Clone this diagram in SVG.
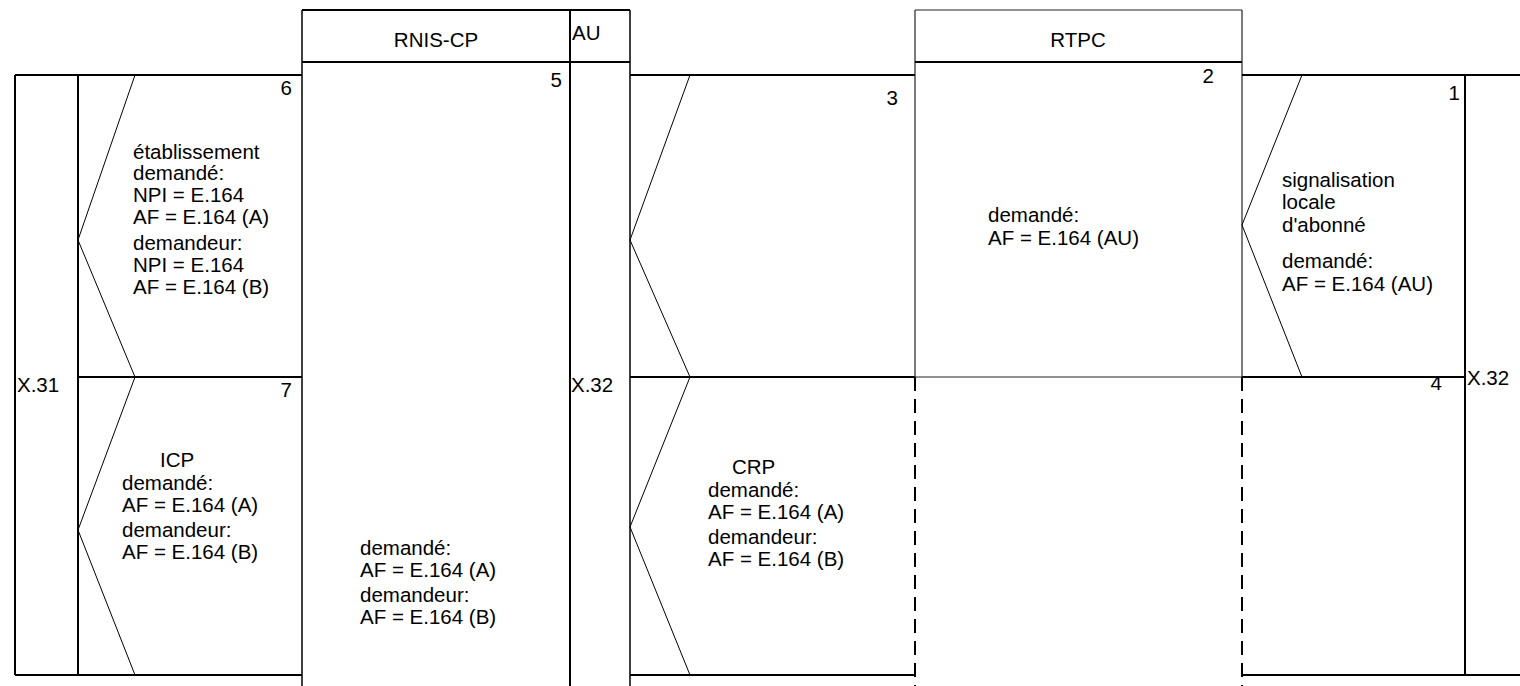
<svg xmlns="http://www.w3.org/2000/svg" width="1520" height="686" viewBox="0 0 1520 686">
<style>
text{font-family:"Liberation Sans",Arial,sans-serif;font-size:20.5px;fill:#000}
.n{text-anchor:end}
.c{text-anchor:middle}
.k{stroke:#000;stroke-width:2;fill:none}
.m{stroke:#000;stroke-width:1.5;fill:none}
.t{stroke:#000;stroke-width:1;fill:none}
.g{stroke:#222;stroke-width:1.2;fill:none}
.d{stroke:#000;stroke-width:2;fill:none;stroke-dasharray:14 8}
</style>
<rect width="1520" height="686" fill="#fff"/>
<g id="connectors">
<line class="k" x1="15" y1="75" x2="302" y2="75"/>
<line class="k" x1="15" y1="75" x2="15" y2="675"/>
<line class="k" x1="78" y1="75" x2="78" y2="675"/>
<line class="k" x1="78" y1="377" x2="302" y2="377"/>
<line class="k" x1="15" y1="675" x2="302" y2="675"/>
<polyline class="t" points="135,75 78,240 135,377"/>
<polyline class="t" points="135,377 78,530 135,675"/>
<line class="k" x1="302" y1="10" x2="630" y2="10"/>
<line class="k" x1="302" y1="62" x2="630" y2="62"/>
<line class="m" x1="302" y1="10" x2="302" y2="686"/>
<line class="k" x1="570" y1="10" x2="570" y2="686"/>
<line class="m" x1="630" y1="10" x2="630" y2="686"/>
<line class="k" x1="630" y1="75" x2="915" y2="75"/>
<line class="k" x1="630" y1="377" x2="915" y2="377"/>
<line class="k" x1="630" y1="675" x2="915" y2="675"/>
<polyline class="t" points="690,75 630,240 690,377"/>
<polyline class="t" points="690,377 630,527 690,675"/>
<line class="g" x1="915" y1="10" x2="1242" y2="10"/>
<line class="k" x1="915" y1="62" x2="1242" y2="62"/>
<line class="g" x1="915" y1="10" x2="915" y2="377"/>
<line class="g" x1="1242" y1="10" x2="1242" y2="377"/>
<line class="g" x1="915" y1="377" x2="1242" y2="377"/>
<line class="d" x1="915" y1="377" x2="915" y2="686"/>
<line class="d" x1="1242" y1="377" x2="1242" y2="686"/>
<line class="k" x1="1242" y1="75" x2="1520" y2="75"/>
<line class="k" x1="1242" y1="377" x2="1465" y2="377"/>
<line class="k" x1="1242" y1="675" x2="1520" y2="675"/>
<line class="k" x1="1465" y1="75" x2="1465" y2="675"/>
<polyline class="t" points="1302,75 1242,225 1302,377"/>
</g>
<g id="header-rnis"><text class="c" x="436" y="47">RNIS-CP</text></g>
<g id="header-au"><text x="572" y="40">AU</text></g>
<g id="header-rtpc"><text class="c" x="1078" y="47">RTPC</text></g>
<g id="if-x31"><text x="17" y="392">X.31</text></g>
<g id="if-x32a"><text x="571" y="392">X.32</text></g>
<g id="if-x32b"><text x="1467" y="385">X.32</text></g>
<g id="node6">
<text class="n" x="292" y="95">6</text>
<text x="133" y="159">établissement</text>
<text x="133" y="180">demandé:</text>
<text x="133" y="202">NPI = E.164</text>
<text x="133" y="224">AF = E.164 (A)</text>
<text x="133" y="250">demandeur:</text>
<text x="133" y="272">NPI = E.164</text>
<text x="133" y="294">AF = E.164 (B)</text>
</g>
<g id="node7">
<text class="n" x="292" y="397">7</text>
<text x="160" y="467">ICP</text>
<text x="122" y="490">demandé:</text>
<text x="122" y="512">AF = E.164 (A)</text>
<text x="122" y="537">demandeur:</text>
<text x="122" y="559">AF = E.164 (B)</text>
</g>
<g id="node5">
<text class="n" x="562" y="87">5</text>
<text x="360" y="555">demandé:</text>
<text x="360" y="577">AF = E.164 (A)</text>
<text x="360" y="602">demandeur:</text>
<text x="360" y="624">AF = E.164 (B)</text>
</g>
<g id="node3">
<text class="n" x="898" y="105">3</text>
<text x="732" y="474">CRP</text>
<text x="708" y="497">demandé:</text>
<text x="708" y="519">AF = E.164 (A)</text>
<text x="708" y="544">demandeur:</text>
<text x="708" y="566">AF = E.164 (B)</text>
</g>
<g id="node2">
<text class="n" x="1214" y="83">2</text>
<text x="988" y="222">demandé:</text>
<text x="988" y="245">AF = E.164 (AU)</text>
</g>
<g id="node1">
<text class="n" x="1460" y="100">1</text>
<text x="1282" y="187">signalisation</text>
<text x="1282" y="209">locale</text>
<text x="1282" y="232">d'abonné</text>
<text x="1282" y="268">demandé:</text>
<text x="1282" y="291">AF = E.164 (AU)</text>
</g>
<g id="node4">
<text class="n" x="1442" y="390">4</text>
</g>
</svg>
